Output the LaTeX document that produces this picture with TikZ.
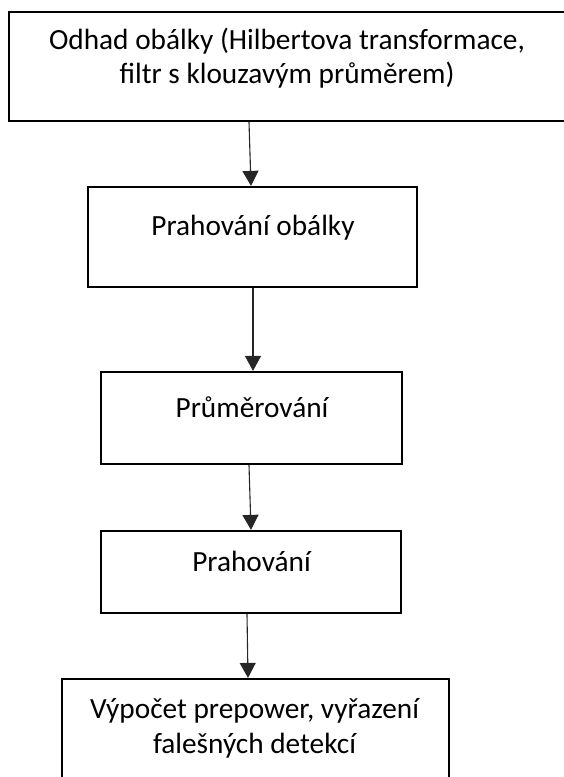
\documentclass[tikz,border=0pt]{standalone}
\usepackage{fontspec}
\setmainfont{Carlito}
\usetikzlibrary{arrows.meta}
\begin{document}
\begin{tikzpicture}[x=1pt,y=-1pt,
  box/.style={draw=black, line width=2.2pt, rectangle, inner sep=0pt},
  txt/.style={font=\fontsize{29.3}{35}\selectfont, inner sep=0pt, align=center, anchor=base},
  flow/.style={line width=1.1pt, draw=black!85, -{Triangle[length=15pt,width=16pt]}}]
\useasboundingbox (0,0) rectangle (563,777);
\node[box, minimum width=557pt, minimum height=109pt] (b1) at (287.5,66.5) {};
\node[box, minimum width=329pt, minimum height=100pt] (b2) at (252.5,237) {};
\node[box, minimum width=301pt, minimum height=92pt] (b3) at (251.5,418) {};
\node[box, minimum width=300pt, minimum height=82pt] (b4) at (251,572) {};
\node[box, minimum width=387pt, minimum height=150pt] (b5) at (255.5,754) {};
\node[txt] (t1a) at (287,49) {Odhad obálky (Hilbertova transformace,};
\node[txt] (t1b) at (287,83.5) {filtr s klouzavým průměrem)};
\node[txt] (t2) at (253,235) {Prahování obálky};
\node[txt] (t3) at (252,417) {Průměrování};
\node[txt] (t4) at (251.5,571) {Prahování};
\node[txt] (t5a) at (254.5,718) {Výpočet prepower, vyřazení};
\node[txt] (t5b) at (254.5,753) {falešných detekcí};
\draw[flow] ([xshift=-38.5pt]b1.south) -- ([xshift=-1.5pt]b2.north);
\draw[flow] ([xshift=0.5pt]b2.south) -- ([xshift=1.5pt]b3.north);
\draw[flow] ([xshift=-2.5pt]b3.south) -- (b4.north);
\draw[flow] ([xshift=-4pt]b4.south) -- ([xshift=-7.5pt]b5.north);
\end{tikzpicture}
\end{document}
